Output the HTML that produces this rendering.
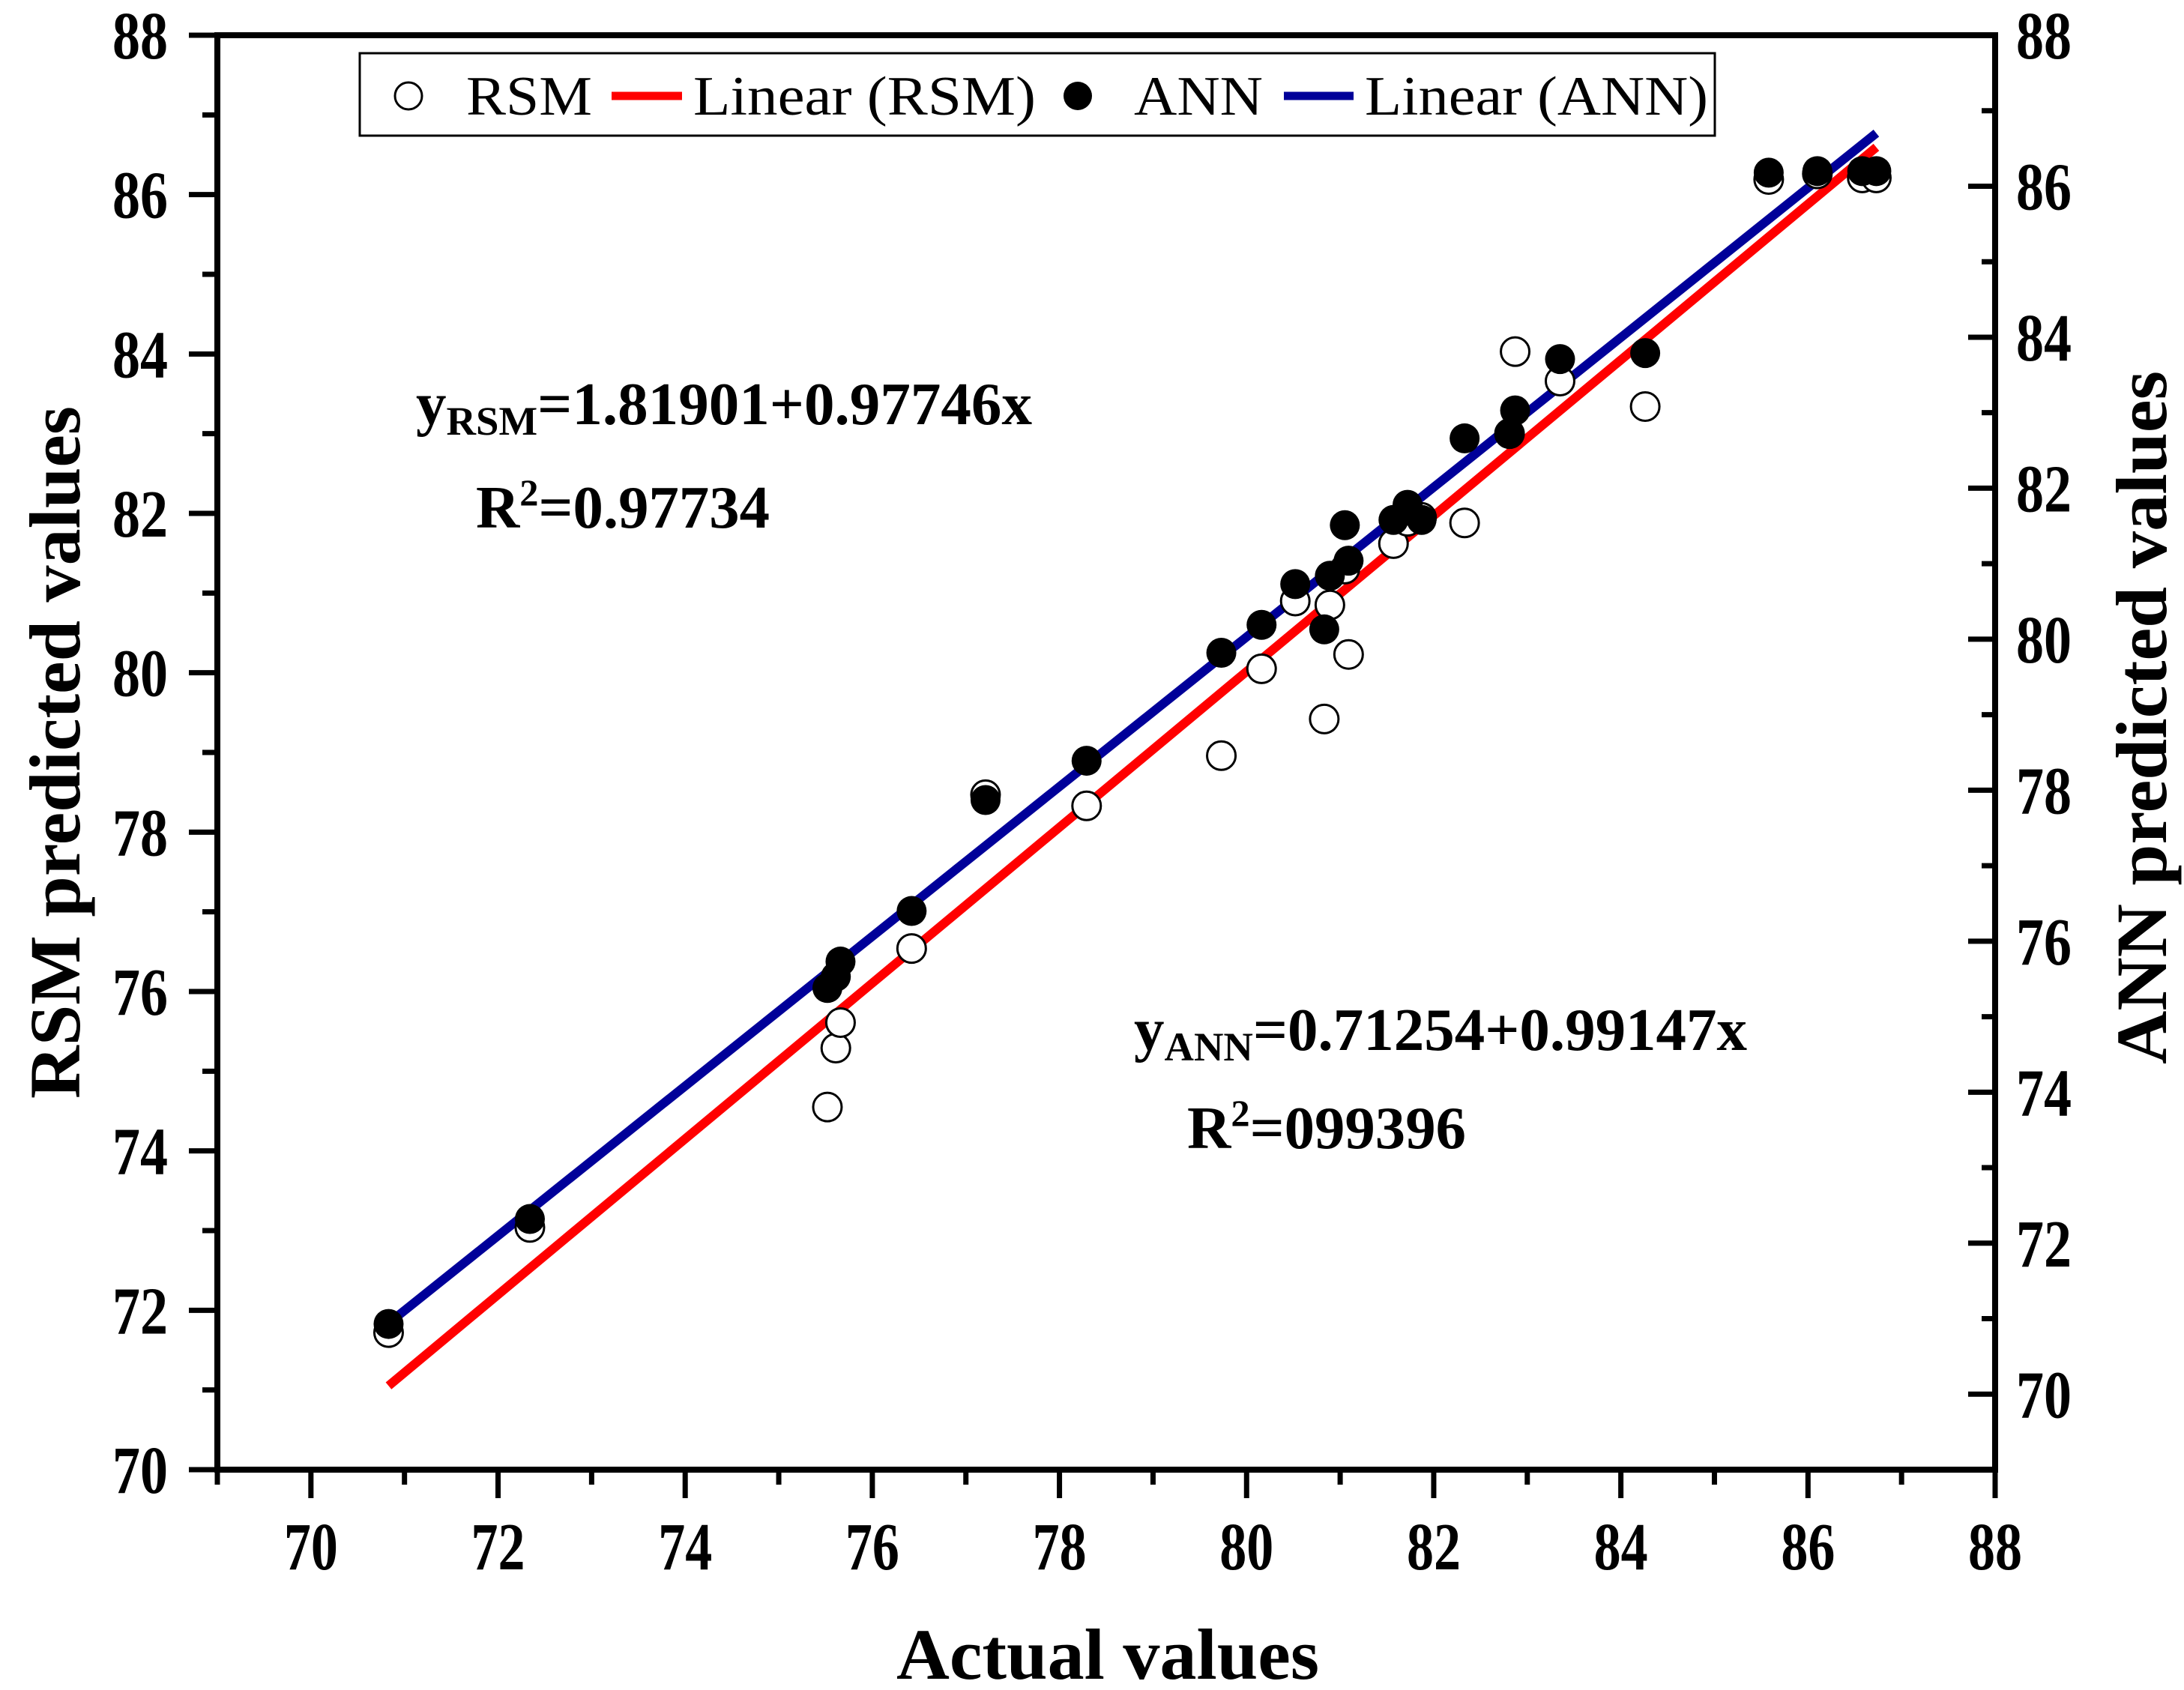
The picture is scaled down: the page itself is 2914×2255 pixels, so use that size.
<!DOCTYPE html>
<html><head><meta charset="utf-8"><style>
html,body{margin:0;padding:0;background:#fff}
svg{display:block}
text{font-family:"Liberation Serif","DejaVu Serif",serif}
</style></head><body>
<svg id="chart" width="2914" height="2255" viewBox="0 0 2914 2255" xmlns="http://www.w3.org/2000/svg">
<g id="axes"></g>
<g id="lines"></g>
<g id="points"></g>
<g>
<rect x="480" y="71" width="1808" height="110" fill="#fff" stroke="#000" stroke-width="3"/>
<circle cx="545" cy="128" r="18" fill="#fff" stroke="#000" stroke-width="3"/>
<text x="622" y="153" font-size="74" textLength="168" lengthAdjust="spacingAndGlyphs">RSM</text>
<line x1="816" y1="128" x2="910" y2="128" stroke="#ff0000" stroke-width="11"/>
<text x="925" y="153" font-size="74" textLength="457" lengthAdjust="spacingAndGlyphs">Linear (RSM)</text>
<circle cx="1438" cy="128" r="19" fill="#000"/>
<text x="1513" y="153" font-size="74" textLength="172" lengthAdjust="spacingAndGlyphs">ANN</text>
<line x1="1713" y1="128" x2="1806" y2="128" stroke="#000099" stroke-width="11"/>
<text x="1821" y="153" font-size="74" textLength="458" lengthAdjust="spacingAndGlyphs">Linear (ANN)</text>
</g>
<text x="555" y="566" font-size="80" font-weight="bold" textLength="822" lengthAdjust="spacingAndGlyphs">y<tspan font-size="54" dy="14">RSM</tspan><tspan dy="-14">=1.81901+0.97746x</tspan></text>
<text x="635" y="704" font-size="80" font-weight="bold" textLength="392" lengthAdjust="spacingAndGlyphs">R<tspan font-size="50" dy="-30">2</tspan><tspan dy="30">=0.97734</tspan></text>
<text x="1513" y="1401" font-size="80" font-weight="bold" textLength="818" lengthAdjust="spacingAndGlyphs">y<tspan font-size="54" dy="14">ANN</tspan><tspan dy="-14">=0.71254+0.99147x</tspan></text>
<text x="1584" y="1532" font-size="80" font-weight="bold" textLength="372" lengthAdjust="spacingAndGlyphs">R<tspan font-size="50" dy="-30">2</tspan><tspan dy="30">=099396</tspan></text>
<text x="1196" y="2240" font-size="96" font-weight="bold" textLength="564" lengthAdjust="spacingAndGlyphs">Actual values</text>
<text transform="translate(106,1466) rotate(-90)" x="0" y="0" font-size="96" font-weight="bold" textLength="924" lengthAdjust="spacingAndGlyphs">RSM predicted values</text>
<text transform="translate(2890,1420) rotate(-90)" x="0" y="0" font-size="96" font-weight="bold" textLength="925" lengthAdjust="spacingAndGlyphs">ANN predicted values</text>
</svg>
<script>
const actual = [70.83,72.34,75.52,75.61,75.66,76.42,77.21,78.29,79.73,80.16,80.52,80.83,80.89,81.09,81.05,81.57,81.72,81.87,82.33,82.81,82.87,83.35,84.26,85.58,86.10,86.58,86.73];
const rsmPred = [71.72,73.04,74.55,75.29,75.61,76.54,78.47,78.33,78.96,80.05,80.9,79.42,80.85,80.23,81.3,81.62,81.9,81.95,81.88,83.0,84.03,83.66,83.34,86.19,86.26,86.21,86.21];
const annPred = [70.93,72.32,75.38,75.53,75.73,76.40,77.87,78.39,79.82,80.19,80.73,80.13,80.84,81.04,81.51,81.58,81.78,81.58,82.66,82.73,83.03,83.71,83.79,86.18,86.20,86.20,86.20];
const rsmFit = [1.81901, 0.97746];
const annFit = [0.71254, 0.99147];
const xTicks = [70,72,74,76,78,80,82,84,86,88];
const leftTicks = [70,72,74,76,78,80,82,84,86,88];
const rightTicks = [70,72,74,76,78,80,82,84,86,88];

const L=290,R=2662,T=47,B=1961;
const xMin=69,xMax=88,yMin=70,yMax=88,y2Min=69,y2Max=88;
const sx=v=>L+(v-xMin)/(xMax-xMin)*(R-L);
const sy=v=>B-(v-yMin)/(yMax-yMin)*(B-T);
const sy2=v=>B-(v-y2Min)/(y2Max-y2Min)*(B-T);
const NS="http://www.w3.org/2000/svg";
function mk(tag,attrs,parent){const e=document.createElementNS(NS,tag);for(const k in attrs)e.setAttribute(k,attrs[k]);parent.appendChild(e);return e;}
const axes=document.getElementById('axes');
let e;
e=mk('rect',{x:L,y:T,width:R-L,height:B-T,fill:'none',stroke:'#000','stroke-width':8},axes);


for(let v=69;v<=88;v++){
  const maj=v%2===0;
  e=mk('line',{x1:sx(v),x2:sx(v),y1:B,y2:B+(maj?38:20),stroke:'#000','stroke-width':7},axes);
  
  
}
xTicks.forEach(v=>{
  e=mk('text',{x:sx(v),y:2094,'font-size':90,'font-weight':'bold','text-anchor':'middle',textLength:72,lengthAdjust:'spacingAndGlyphs'},axes);
  e.textContent=v;
  
  
});
for(let v=70;v<=88;v++){
  const maj=v%2===0;
  e=mk('line',{x1:L,x2:L-(maj?38:20),y1:sy(v),y2:sy(v),stroke:'#000','stroke-width':7},axes);
  
  
}
leftTicks.forEach(v=>{
  e=mk('text',{x:224,y:sy(v)+31,'font-size':90,'font-weight':'bold','text-anchor':'end',textLength:74,lengthAdjust:'spacingAndGlyphs'},axes);
  e.textContent=v;
  
  
});
for(let v=69;v<=88;v++){
  const maj=v%2===0;
  e=mk('line',{x1:R,x2:R-(maj?36:18),y1:sy2(v),y2:sy2(v),stroke:'#000','stroke-width':7},axes);
  
  
}
rightTicks.forEach(v=>{
  e=mk('text',{x:2690,y:sy2(v)+31,'font-size':90,'font-weight':'bold',textLength:74,lengthAdjust:'spacingAndGlyphs'},axes);
  e.textContent=v;
  
  
});
const lines=document.getElementById('lines');
const x0=Math.min(...actual),x1=Math.max(...actual);
e=mk('line',{x1:sx(x0),y1:sy(rsmFit[0]+rsmFit[1]*x0),x2:sx(x1),y2:sy(rsmFit[0]+rsmFit[1]*x1),stroke:'#ff0000','stroke-width':12},lines);


e=mk('line',{x1:sx(x0),y1:sy2(annFit[0]+annFit[1]*x0),x2:sx(x1),y2:sy2(annFit[0]+annFit[1]*x1),stroke:'#000099','stroke-width':12},lines);


const pts=document.getElementById('points');
actual.forEach((a,i)=>{
  e=mk('circle',{cx:sx(a),cy:sy(rsmPred[i]),r:19,fill:'#fff',stroke:'#000','stroke-width':3},pts);
  
  
});
actual.forEach((a,i)=>{
  e=mk('circle',{cx:sx(a),cy:sy2(annPred[i]),r:20,fill:'#000'},pts);
  
  
});
</script>
</body></html>
